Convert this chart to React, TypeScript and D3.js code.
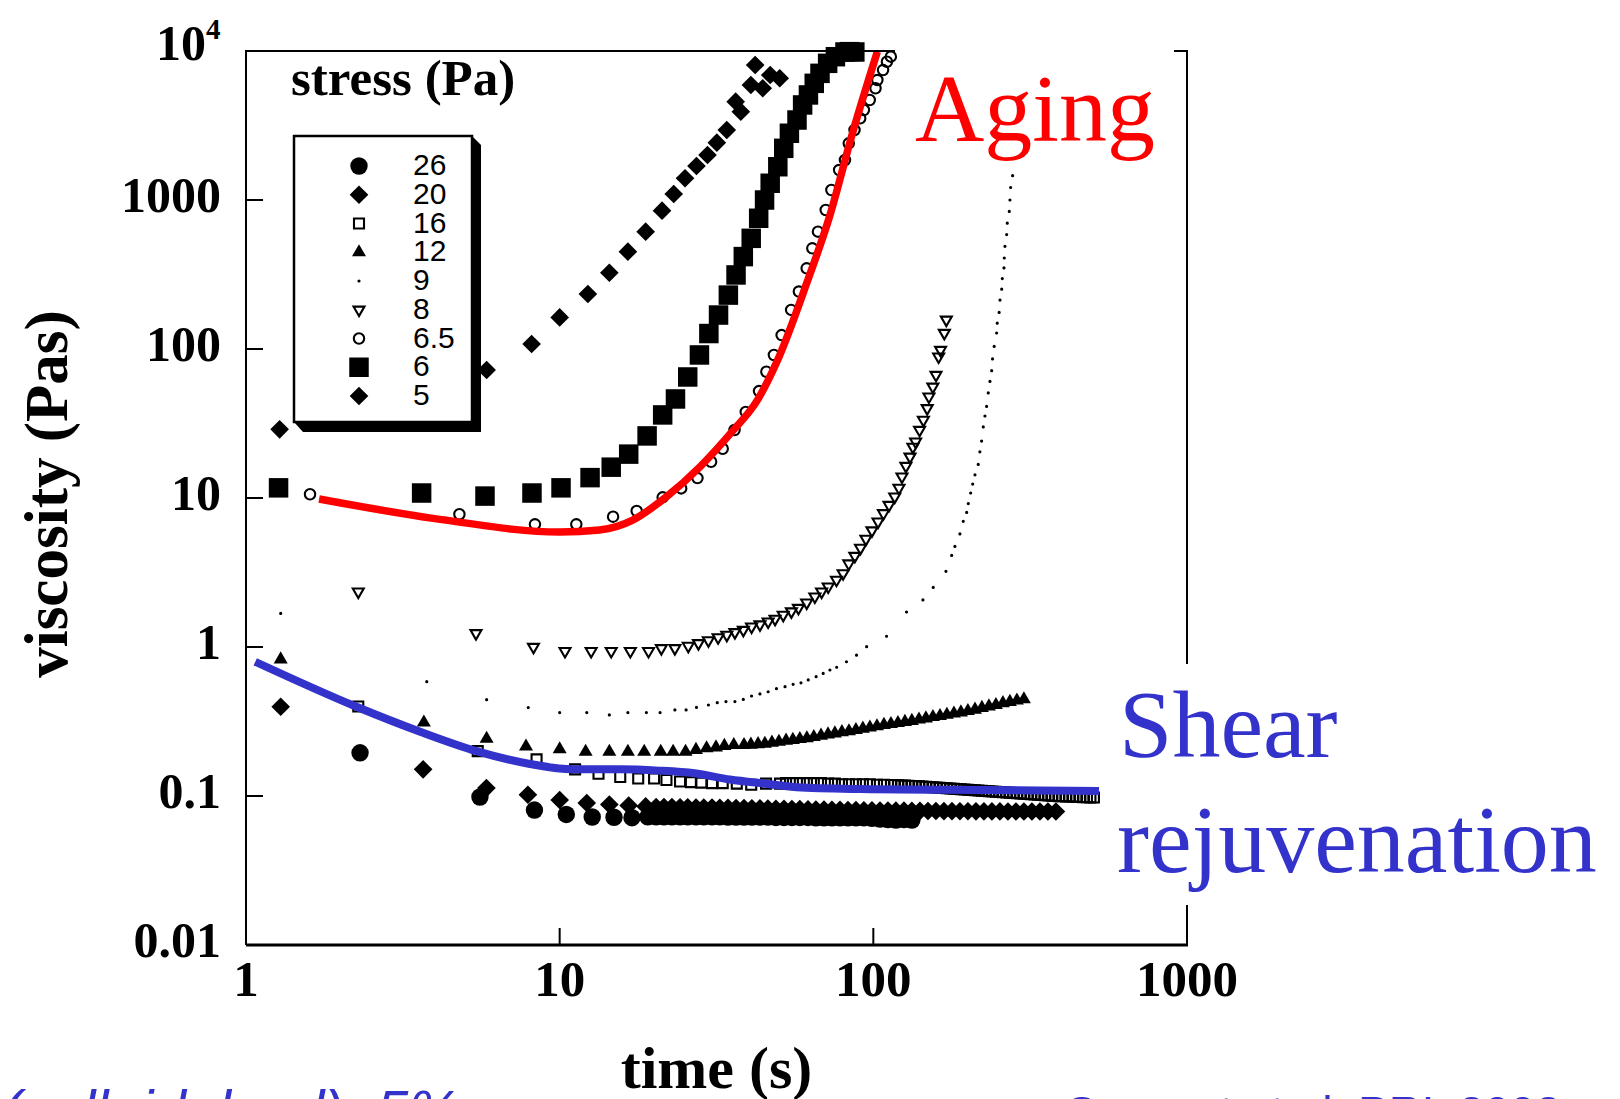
import { useEffect } from 'react';
import * as d3 from 'd3';

const W = 1620;
const H = 1099;
const PLOT = { left: 246, right: 1187, top: 51, bottom: 945 };

const SERIF = "'Liberation Serif', 'Times New Roman', Times, serif";
const SANS = "'Liberation Sans', Arial, Helvetica, sans-serif";
const BLUE = '#3333cc';
const RED = '#ff0000';

// axis ticks
const xTicks = [1, 10, 100, 1000];
const xTickLabels = ['1', '10', '100', '1000'];
const yTicks = [0.01, 0.1, 1, 10, 100, 1000];
const yTickLabels = ['0.01', '0.1', '1', '10', '100', '1000'];

// stress series, [time (s), viscosity (Pas)]
const stress5: [number, number][] = [
  [1.28, 28.9], [5.85, 72.3], [8.14, 108], [10.0, 163], [12.3, 234], [14.4, 325], [16.5, 450],
  [18.8, 613], [21.2, 848], [23.1, 1097], [25.1, 1400], [27.3, 1690], [29.6, 2005], [31.7, 2425],
  [34.1, 2950], [36.4, 4570], [37.8, 3916], [40.7, 5910], [42.0, 8050], [44.4, 5620], [46.9, 6900],
  [50.3, 6560],
];

const stress6: [number, number][] = [
  [1.27, 11.7], [3.63, 10.8], [5.78, 10.3], [8.16, 10.8], [10.1, 11.7], [12.5, 13.7], [14.6, 16.1],
  [16.6, 19.7], [19.0, 26.1], [21.3, 36.1], [23.4, 46.2], [25.6, 64.9], [27.9, 91.2], [29.9, 127],
  [32.1, 169], [34.5, 230], [36.5, 314], [38.5, 417], [40.8, 553], [43.1, 754], [45.0, 1000],
  [46.9, 1295], [49.6, 1672], [51.8, 2222], [54.0, 2805], [57.1, 3442], [59.5, 4344], [62.1, 5070],
  [64.8, 6068], [67.6, 7080], [71.5, 8265], [75.7, 9155], [81.2, 9850], [84.0, 9900], [87.3, 9850],
];

const stress6_5: [number, number][] = [
  [1.60, 10.6], [4.79, 7.78], [8.34, 6.66], [11.3, 6.66], [14.8, 7.49], [17.6, 8.18], [21.3, 10.1],
  [24.4, 11.6], [27.5, 13.6], [30.4, 17.5], [33.1, 21.4], [36.1, 28.6], [39.2, 37.8], [43.2, 52.2],
  [45.6, 70.4], [48.2, 91.2], [51.0, 124], [54.7, 183], [57.9, 243], [61.3, 348], [63.9, 474],
  [66.6, 613], [70.5, 857], [73.5, 1167], [77.8, 1589], [81.2, 1855], [83.5, 2400], [87.1, 2950],
  [90.8, 3534], [93.3, 4018], [97.4, 4690], [101.6, 5620], [103, 6385], [107.4, 7450], [110.5, 8475],
  [113.7, 9160],
];

const stress8: [number, number][] = [
  [2.28, 2.35], [5.41, 1.236], [8.25, 1.0], [10.4, 0.938], [12.6, 0.938], [14.6, 0.938], [16.8, 0.938],
  [19.2, 0.938], [21.1, 0.98], [23.3, 0.98], [25.7, 1.016], [27.7, 1.059], [29.8, 1.106], [32.0, 1.161],
  [34.1, 1.204], [36.2, 1.255], [38.5, 1.30], [40.9, 1.368], [43.5, 1.416], [46.2, 1.479], [48.6, 1.542],
  [51.6, 1.641], [54.8, 1.730], [57.7, 1.827], [61.3, 1.983], [65.1, 2.178], [68.4, 2.35], [71.8, 2.54],
  [76.3, 2.82], [80.1, 3.12], [83.5, 3.63], [87.3, 4.08], [91.0, 4.62], [94.7, 5.31], [99.0, 6.05],
  [103.5, 6.93], [107.7, 7.89], [112.2, 8.97], [117.0, 10.2], [120.7, 11.7], [123.4, 13.9], [127.0, 16.4],
  [130.9, 18.9], [133.7, 22.0], [136.4, 23.9], [140.4, 28.6], [144.4, 33.4], [148.5, 40.0], [150.4, 47.9],
  [154.8, 55.8], [158.4, 66.9], [161.5, 88.8], [163.8, 98.4], [168.4, 128], [170.9, 157],
];

const stress9: [number, number][] = [
  [1.29, 1.68], [3.77, 0.585], [5.85, 0.443], [7.94, 0.392], [10.0, 0.363], [12.2, 0.363], [14.4, 0.350],
  [16.5, 0.363], [18.9, 0.363], [20.9, 0.363], [23.3, 0.378], [25.3, 0.378], [27.3, 0.393], [29.8, 0.408],
  [31.8, 0.423], [33.9, 0.430], [36.2, 0.430], [38.5, 0.445], [40.9, 0.469], [43.5, 0.484], [46.2, 0.501],
  [49.1, 0.525], [52.3, 0.542], [55.5, 0.562], [58.8, 0.575], [62.0, 0.601], [65.7, 0.632], [69.2, 0.665],
  [72.7, 0.701], [76.4, 0.731], [82.1, 0.796], [88.4, 0.881], [95.2, 1.005], [110.2, 1.181], [127.6, 1.718],
  [143.9, 2.07], [155.2, 2.51], [170.4, 3.22], [177.7, 4.12], [182.0, 4.73], [188.8, 5.74], [193.5, 6.97],
  [198.4, 8.0], [200.8, 9.17], [204.3, 10.8], [207.4, 12.4], [210.9, 14.3], [216.0, 16.8], [218.6, 20.4],
  [221.4, 24.1], [224.1, 30.0], [226.9, 35.5], [229.7, 41.2], [232.5, 50.7], [235.4, 60.6], [238.4, 71.5],
  [239.9, 85.8], [242.8, 104], [247.2, 128], [248.3, 149], [251.8, 176], [253.4, 213], [256.6, 252],
  [257.7, 297], [260.9, 350], [261.5, 408], [262.8, 489], [266.1, 586], [267.3, 699], [271.3, 838],
  [272.6, 1000], [274.0, 1213], [278.0, 1456],
];

const stress12: [number, number][] = [
  [1.29, 0.826], [3.69, 0.311], [5.85, 0.242], [7.81, 0.215], [10.0, 0.206], [12.1, 0.198], [14.4, 0.198],
  [16.5, 0.198], [18.6, 0.198], [21.0, 0.198], [23.0, 0.198], [25.2, 0.198], [27.2, 0.204], [29.4, 0.209],
  [31.5, 0.212], [33.5, 0.217], [35.9, 0.220], [38.7, 0.220], [40.7, 0.221], [42.9, 0.223], [45.1, 0.224],
  [47.5, 0.228], [50.0, 0.231], [52.7, 0.235], [55.4, 0.238], [58.3, 0.241], [61.4, 0.244], [64.6, 0.249],
  [68.1, 0.254], [71.7, 0.259], [75.4, 0.263], [79.4, 0.268], [83.6, 0.272], [88.0, 0.277], [92.6, 0.283],
  [97.5, 0.288], [102.7, 0.294], [108.1, 0.300], [113.8, 0.304], [119.8, 0.309], [126.1, 0.314],
  [132.7, 0.319], [139.8, 0.326], [147.1, 0.332], [154.9, 0.339], [163.1, 0.344], [171.6, 0.351],
  [180.7, 0.358], [190.2, 0.364], [200.2, 0.372], [210.9, 0.380], [221.9, 0.390], [233.6, 0.399],
  [245.9, 0.408], [258.9, 0.420], [272.5, 0.428], [286.9, 0.437], [302.0, 0.446],
];

const stress16: [number, number][] = [
  [2.28, 0.399], [5.48, 0.200], [8.44, 0.176], [11.2, 0.151], [13.3, 0.141], [15.6, 0.134], [17.8, 0.131],
  [20.0, 0.131], [21.9, 0.128], [24.2, 0.125], [26.2, 0.124], [28.3, 0.123], [30.6, 0.122], [33.1, 0.122],
  [36.7, 0.121], [40.8, 0.119], [45.5, 0.121], [50.4, 0.121], [52.7, 0.122], [55.4, 0.122], [58.3, 0.122],
  [61.4, 0.122], [64.6, 0.122], [68.1, 0.122], [71.7, 0.121], [75.4, 0.121], [79.4, 0.120], [83.6, 0.120],
  [88.0, 0.120], [92.6, 0.120], [97.5, 0.120], [102.7, 0.119], [108.1, 0.119], [113.8, 0.1185],
  [116.8, 0.1185], [119.8, 0.1180], [122.9, 0.1176], [126.1, 0.1176], [129.4, 0.1172], [132.7, 0.1167],
  [136.2, 0.1167], [139.8, 0.1163], [143.4, 0.1158], [147.1, 0.1154], [151.0, 0.1149], [154.9, 0.1145],
  [158.9, 0.1140], [163.1, 0.1136], [167.3, 0.1131], [171.6, 0.1127], [176.1, 0.1122], [180.7, 0.1118],
  [185.4, 0.1114], [190.2, 0.1110], [195.2, 0.1105], [200.2, 0.1101], [205.5, 0.1097], [210.9, 0.1093],
  [216.3, 0.1089], [221.9, 0.1084], [227.7, 0.1080], [233.6, 0.1076], [239.7, 0.1072], [245.9, 0.1068],
  [252.4, 0.1064], [258.9, 0.1060], [265.7, 0.1055], [272.5, 0.1051], [279.7, 0.1047], [286.9, 0.1043],
  [294.4, 0.1039], [302.0, 0.1035], [309.9, 0.1031], [318.0, 0.1027], [326.3, 0.1023], [334.7, 0.1019],
  [343.5, 0.1015], [352.4, 0.1012], [361.6, 0.1008], [370.9, 0.1004], [380.6, 0.1000], [390.6, 0.0998],
  [400.7, 0.0996], [411.1, 0.0994], [421.8, 0.0992], [432.8, 0.0990], [444.0, 0.0988], [455.6, 0.0985],
  [467.5, 0.0983], [479.6, 0.0981], [492.2, 0.0979], [504.9, 0.0977],
];

const stress20: [number, number][] = [
  [1.29, 0.397], [3.67, 0.151], [5.84, 0.113], [7.92, 0.102], [10.0, 0.094], [12.2, 0.0897], [14.4, 0.0877],
  [16.6, 0.0863], [18.8, 0.0851], [20.3, 0.0844], [21.5, 0.0844], [22.8, 0.0844], [24.2, 0.0840],
  [25.6, 0.0840], [27.2, 0.0837], [28.8, 0.0837], [30.6, 0.0837], [32.4, 0.0834], [34.4, 0.0834],
  [36.5, 0.0831], [38.7, 0.0831], [41.0, 0.0828], [43.5, 0.0828], [46.1, 0.0824], [48.9, 0.0821],
  [51.9, 0.0821], [55.0, 0.0818], [58.3, 0.0818], [61.9, 0.0815], [65.6, 0.0812], [69.6, 0.0812],
  [73.8, 0.0808], [78.3, 0.0808], [83.0, 0.0805], [88.0, 0.0805], [93.3, 0.0802], [99.0, 0.0802],
  [105.0, 0.0799], [111.3, 0.0799], [118.0, 0.0797], [125.2, 0.0797], [132.7, 0.0795], [140.8, 0.0795],
  [149.3, 0.0793], [158.3, 0.0793], [167.9, 0.0791], [178.1, 0.0791], [188.8, 0.0790], [200.2, 0.0790],
  [212.4, 0.0789], [225.2, 0.0789], [238.8, 0.0788], [253.2, 0.0788], [268.6, 0.0787], [284.8, 0.0787],
  [302.0, 0.0787], [320.3, 0.0787], [339.7, 0.0787], [360.2, 0.0787], [382.0, 0.0787],
];

const stress26: [number, number][] = [
  [2.31, 0.195], [5.57, 0.0985], [8.31, 0.0805], [10.5, 0.0752], [12.7, 0.0723], [14.9, 0.0720],
  [17.0, 0.0715], [19.1, 0.0725], [20.3, 0.0725], [21.5, 0.0725], [22.8, 0.0725], [24.2, 0.0725],
  [25.6, 0.0725], [27.2, 0.0725], [28.8, 0.0725], [30.6, 0.0725], [32.4, 0.0725], [34.4, 0.0722],
  [36.5, 0.0722], [38.7, 0.0722], [41.0, 0.0722], [43.5, 0.0722], [46.1, 0.0722], [48.9, 0.0718],
  [51.9, 0.0718], [55.0, 0.0718], [58.3, 0.0718], [61.9, 0.0718], [65.6, 0.0713], [69.6, 0.0713],
  [73.8, 0.0713], [78.3, 0.0713], [83.0, 0.0713], [88.0, 0.0713], [93.3, 0.0713], [99.0, 0.0708],
  [105.0, 0.0700], [111.3, 0.0695], [118.0, 0.0690], [125.2, 0.0695], [132.7, 0.0690],
];

// fitted curves
const agingFit: [number, number][] = [
  [1.71, 9.85], [4.15, 7.19], [10.0, 5.91], [13.4, 6.10], [17.1, 7.11], [21.9, 10.2], [28.0, 16.2],
  [35.5, 28], [42.6, 45], [49.5, 84], [61.3, 276], [72.5, 773], [85.8, 2805], [103, 9890],
];

const rejuvenationFit: [number, number][] = [
  [1.07, 0.796], [2.25, 0.397], [3.59, 0.270], [5.43, 0.200], [8.04, 0.164], [11.0, 0.151], [15.6, 0.151],
  [20.7, 0.148], [26.9, 0.142], [34.9, 0.129], [45.4, 0.121], [58.9, 0.114], [99.6, 0.111], [168, 0.110],
  [340, 0.109], [524, 0.108],
];

type Shape = 'circle' | 'dot' | 'square' | 'diamond' | 'triangle' | 'triangleDown';

const legendLabels = ['26', '20', '16', '12', '9', '8', '6.5', '6', '5'];
const seriesData = [stress26, stress20, stress16, stress12, stress9, stress8, stress6_5, stress6, stress5];
const seriesShapes: Shape[] = ['circle', 'diamond', 'square', 'triangle', 'dot', 'triangleDown', 'circle', 'square', 'diamond'];
const seriesFilled = [true, true, false, true, true, false, false, true, true];
const seriesArea = [238, 174, 100, 85, 8, 52, 85, 380, 174];

function markerPath(shape: Shape, area: number) {
  const type =
    shape === 'circle' || shape === 'dot'
      ? d3.symbolCircle
      : shape === 'triangle' || shape === 'triangleDown'
      ? d3.symbolTriangle
      : d3.symbolSquare;
  return d3.symbol().type(type).size(area)() as string;
}

function rotationFor(shape: Shape) {
  if (shape === 'diamond') return 45;
  if (shape === 'triangleDown') return 180;
  return 0;
}

function Marker({ shape, area, filled, x, y }: { shape: Shape; area: number; filled: boolean; x: number; y: number }) {
  return (
    <path
      d={markerPath(shape, area)}
      transform={`translate(${x},${y}) rotate(${rotationFor(shape)})`}
      fill={filled ? '#000' : 'none'}
      stroke={filled ? 'none' : '#000'}
      strokeWidth={filled ? 0 : 2.1}
    />
  );
}

export default function App() {
  useEffect(() => {
    document.body.style.margin = '0';
  }, []);

  const x = d3.scaleLog().domain([1, 1000]).range([PLOT.left, PLOT.right]);
  const y = d3.scaleLog().domain([0.01, 10000]).range([PLOT.bottom, PLOT.top]);

  const line = d3
    .line<[number, number]>()
    .x((d) => x(d[0]))
    .y((d) => y(d[1]))
    .curve(d3.curveMonotoneX);

  const order = [8, 7, 6, 5, 4, 3, 2, 1, 0];

  // legend layout
  const lg = { left: 294, top: 136, right: 472, bottom: 422, symX: 359, textX: 413, row0: 166, step: 28.75 };

  return (
    <svg
      width={W}
      height={H}
      viewBox={`0 0 ${W} ${H}`}
      style={{ position: 'absolute', left: 0, top: 0, display: 'block', background: '#fff' }}
    >
      <rect x={0} y={0} width={W} height={H} fill="#fff" />

      {/* data markers */}
      {order.map((i) => (
        <g key={legendLabels[i]}>
          {seriesData[i].map((d, j) => (
            <Marker
              key={j}
              shape={seriesShapes[i]}
              area={seriesArea[i]}
              filled={seriesFilled[i]}
              x={x(d[0])}
              y={y(d[1])}
            />
          ))}
        </g>
      ))}

      {/* fits */}
      <path d={line(agingFit) as string} fill="none" stroke={RED} strokeWidth={7.5} />
      <path d={line(rejuvenationFit) as string} fill="none" stroke={BLUE} strokeWidth={8} />

      {/* axes frame */}
      <g stroke="#000" fill="none">
        <line x1={PLOT.left} x2={PLOT.left} y1={PLOT.top} y2={PLOT.bottom} strokeWidth={2} />
        <line x1={PLOT.left - 1} x2={895} y1={PLOT.top} y2={PLOT.top} strokeWidth={2} />
        <line x1={1174} x2={PLOT.right + 1} y1={PLOT.top} y2={PLOT.top} strokeWidth={2} />
        <line x1={PLOT.right} x2={PLOT.right} y1={PLOT.top} y2={664} strokeWidth={2} />
        <line x1={PLOT.right} x2={PLOT.right} y1={905} y2={PLOT.bottom} strokeWidth={2} />
        <line x1={PLOT.left} x2={PLOT.right + 1} y1={PLOT.bottom} y2={PLOT.bottom} strokeWidth={3} />
        {yTicks.slice(1).map((v) => (
          <line key={v} x1={PLOT.left} x2={PLOT.left + 17} y1={y(v)} y2={y(v)} strokeWidth={2} />
        ))}
        {xTicks.slice(1, 3).map((t) => (
          <line key={t} x1={x(t)} x2={x(t)} y1={PLOT.bottom} y2={PLOT.bottom - 17} strokeWidth={2} />
        ))}
      </g>

      {/* tick labels */}
      <g fontFamily={SERIF} fontWeight="bold" fill="#000">
        {yTicks.map((v, i) => (
          <text key={v} x={221} y={y(v) + 12} fontSize={50} textAnchor="end">
            {yTickLabels[i]}
          </text>
        ))}
        <text x={206} y={60} fontSize={50} textAnchor="end">10</text>
        <text x={206} y={39} fontSize={29}>4</text>
        {xTicks.map((t, i) => (
          <text key={t} x={x(t)} y={996} fontSize={51} textAnchor="middle">
            {xTickLabels[i]}
          </text>
        ))}
        <text x={(PLOT.left + PLOT.right) / 2} y={1088} fontSize={60} textAnchor="middle">
          time (s)
        </text>
        <text transform="translate(67,494) rotate(-90)" fontSize={61} textAnchor="middle">
          viscosity (Pas)
        </text>
        <text x={291} y={95} fontSize={51}>stress (Pa)</text>
      </g>

      {/* legend box */}
      <polygon
        points={`${lg.right},${lg.top} ${lg.right + 9},${lg.top + 9} ${lg.right + 9},${lg.bottom + 10} ${lg.left + 9},${lg.bottom + 10} ${lg.left},${lg.bottom}`}
        fill="#000"
      />
      <rect
        x={lg.left}
        y={lg.top}
        width={lg.right - lg.left}
        height={lg.bottom - lg.top}
        fill="#fff"
        stroke="#000"
        strokeWidth={2.5}
      />
      {legendLabels.map((lab, i) => {
        const cy = lg.row0 + i * lg.step;
        return (
          <g key={lab}>
            <Marker shape={seriesShapes[i]} area={seriesArea[i]} filled={seriesFilled[i]} x={lg.symX} y={cy} />
            <text x={lg.textX} y={cy + 9} fontFamily={SANS} fontSize={30} fill="#000">
              {lab}
            </text>
          </g>
        );
      })}

      {/* annotations */}
      <text x={915} y={141} fontFamily={SERIF} fontSize={96} fill={RED}>Aging</text>
      <text x={1119} y={757} fontFamily={SERIF} fontSize={96} fill={BLUE}>Shear</text>
      <text x={1117} y={872} fontFamily={SERIF} fontSize={96} fill={BLUE}>rejuvenation</text>

      {/* footer text, cut off by the page edge */}
      <text x={2} y={1131} fontFamily={SANS} fontStyle="italic" fontSize={58} fill={BLUE}>
        (colloidal gel), 5%
      </text>
      <text x={1064} y={1129} fontFamily={SANS} fontSize={46} fill={BLUE}>
        Coussot et al. PRL 2002
      </text>
    </svg>
  );
}
